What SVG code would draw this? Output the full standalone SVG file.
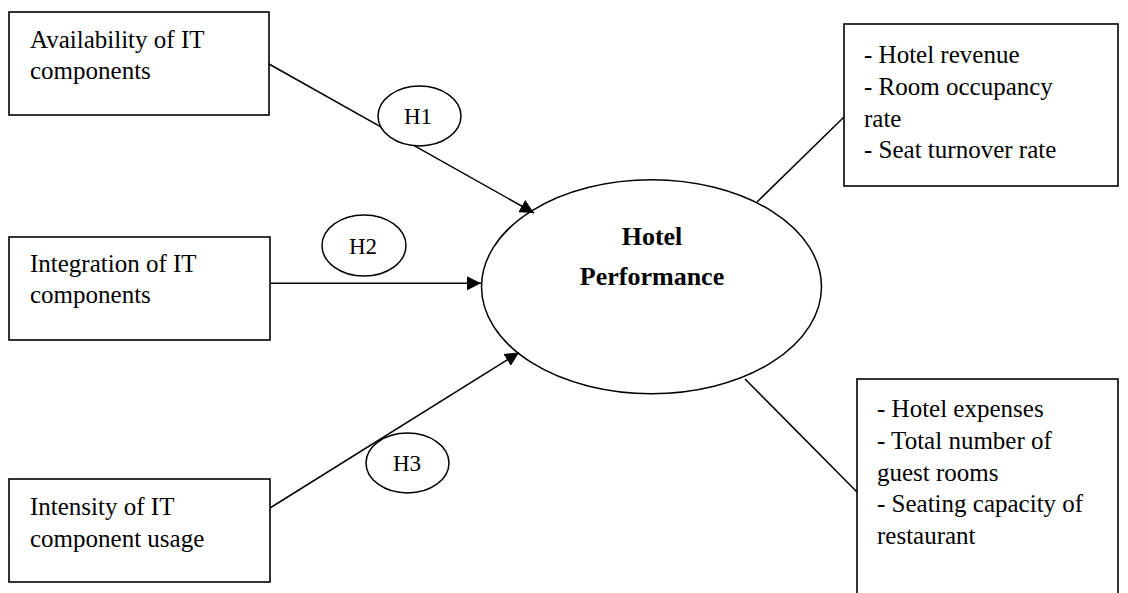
<svg xmlns="http://www.w3.org/2000/svg" width="1128" height="593" viewBox="0 0 1128 593">
<defs>
<style>
.box{fill:#fff;stroke:#000;stroke-width:1.6}
.ell{fill:#fff;stroke:#000;stroke-width:1.5}
.ln{fill:none;stroke:#000;stroke-width:1.5}
.t{font-family:"Liberation Serif","Times New Roman",serif;font-size:25px;fill:#000}
.h{font-family:"Liberation Serif","Times New Roman",serif;font-size:23px;fill:#000;text-anchor:middle}
.b{font-family:"Liberation Serif","Times New Roman",serif;font-size:26px;font-weight:bold;fill:#000;text-anchor:middle}
</style>
<marker id="arr" markerUnits="userSpaceOnUse" markerWidth="15" markerHeight="14" refX="14" refY="7" orient="auto">
<path d="M0,0 L14,7 L0,14 z" fill="#000"/>
</marker>
</defs>
<rect width="1128" height="593" fill="#fff"/>
<g id="hotel-performance">
<ellipse class="ell" cx="651.5" cy="286.75" rx="170" ry="107"/>
<text class="b" x="652" y="245">Hotel</text>
<text class="b" x="652" y="285">Performance</text>
</g>
<g id="connectors">
<line class="ln" x1="269" y1="64" x2="534" y2="213" marker-end="url(#arr)"/>
<line class="ln" x1="270" y1="283.3" x2="481" y2="283.3" marker-end="url(#arr)"/>
<line class="ln" x1="270" y1="508" x2="519" y2="352.5" marker-end="url(#arr)"/>
<line class="ln" x1="757" y1="202" x2="844" y2="117"/>
<line class="ln" x1="745" y1="379" x2="857" y2="492"/>
</g>
<g id="availability">
<rect class="box" x="9" y="12" width="260" height="103"/>
<text class="t" x="30" y="48">Availability of IT</text>
<text class="t" x="30" y="79">components</text>
</g>
<g id="integration">
<rect class="box" x="9" y="237" width="261" height="103"/>
<text class="t" x="30" y="272">Integration of IT</text>
<text class="t" x="30" y="303">components</text>
</g>
<g id="intensity">
<rect class="box" x="9" y="479" width="261" height="103"/>
<text class="t" x="30" y="515">Intensity of IT</text>
<text class="t" x="30" y="547">component usage</text>
</g>
<g id="h1">
<ellipse class="ell" cx="419.5" cy="116" rx="41.5" ry="30"/>
<text class="h" x="418" y="124">H1</text>
</g>
<g id="h2">
<ellipse class="ell" cx="364" cy="245.5" rx="42" ry="30.5"/>
<text class="h" x="363" y="254">H2</text>
</g>
<g id="h3">
<ellipse class="ell" cx="407.5" cy="463" rx="41.5" ry="30"/>
<text class="h" x="407" y="471">H3</text>
</g>
<g id="outputs">
<rect class="box" x="844" y="24" width="274" height="162"/>
<text class="t" x="864" y="63">- Hotel revenue</text>
<text class="t" x="864" y="95">- Room occupancy</text>
<text class="t" x="864" y="127">rate</text>
<text class="t" x="864" y="158">- Seat turnover rate</text>
</g>
<g id="inputs">
<rect class="box" x="857" y="379" width="261" height="230"/>
<text class="t" x="877" y="417">- Hotel expenses</text>
<text class="t" x="877" y="449">- Total number of</text>
<text class="t" x="877" y="481">guest rooms</text>
<text class="t" x="877" y="512">- Seating capacity of</text>
<text class="t" x="877" y="544">restaurant</text>
</g>
</svg>
